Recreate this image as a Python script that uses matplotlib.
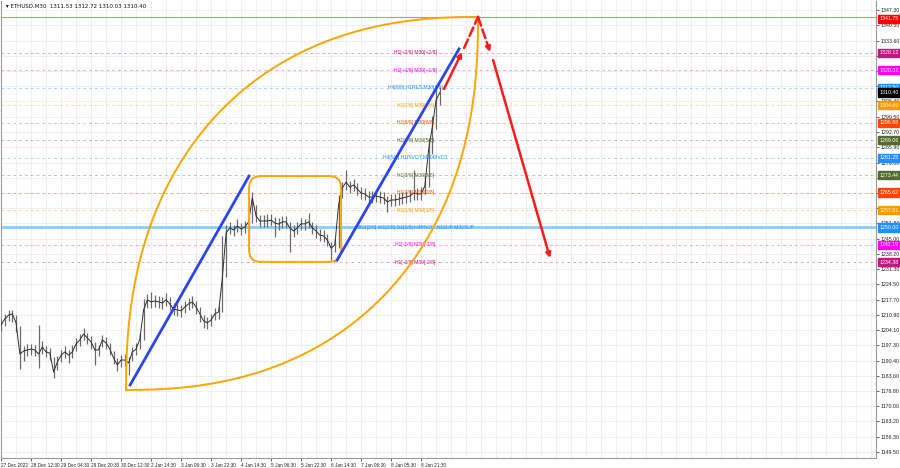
import numpy as np
import matplotlib.pyplot as plt
import matplotlib.transforms as mtransforms
from matplotlib.patches import FancyBboxPatch, FancyArrowPatch

plt.rcParams['font.family'] = ['Liberation Sans', 'DejaVu Sans']

# ETHUSD M30, one reading every 4 bars (close / high / low)
bar_step = 4
closes = [1206.4, 1209.1, 1210.8, 1211.3, 1207.3, 1193.4, 1194.7, 1195.2, 1195.6, 1195.2,
          1193.4, 1196.5, 1194.3, 1193.8, 1185.3, 1189.8, 1192.9, 1194.3, 1192.9, 1194.3,
          1197.9, 1199.7, 1202.3, 1200.6, 1198.8, 1195.2, 1195.2, 1199.7, 1198.3, 1195.6,
          1191.6, 1188.5, 1190.7, 1190.7, 1189.4, 1194.3, 1195.6, 1200.1, 1213.1, 1217.6,
          1216.7, 1217.1, 1216.7, 1216.2, 1217.6, 1215.8, 1213.5, 1213.1, 1212.7, 1214.4,
          1215.8, 1216.7, 1214.4, 1211.3, 1208.2, 1207.3, 1208.6, 1211.3, 1212.2, 1227.4,
          1247.5, 1249.8, 1248.9, 1250.7, 1249.3, 1250.2, 1252.5, 1263.2, 1255.1, 1252.9,
          1252.9, 1252.9, 1253.3, 1252.0, 1251.5, 1252.5, 1252.5, 1249.8, 1248.4, 1249.8,
          1251.6, 1251.6, 1252.5, 1249.8, 1248.4, 1246.6, 1246.2, 1244.4, 1240.8, 1242.2,
          1260.1, 1267.7, 1270.3, 1268.1, 1269.0, 1267.2, 1265.4, 1265.0, 1263.6, 1263.6,
          1264.1, 1263.6, 1263.2, 1261.4, 1262.3, 1262.3, 1262.7, 1263.2, 1263.6, 1264.1,
          1265.4, 1265.0, 1265.0, 1268.6, 1284.7, 1295.0, 1307.0, 1310.4]
highs = [1209.0, 1211.5, 1213.2, 1213.0, 1211.0, 1206.0, 1197.0, 1197.8, 1198.0, 1197.5,
         1206.4, 1199.0, 1196.8, 1196.1, 1192.0, 1192.4, 1195.3, 1196.9, 1195.0, 1197.2,
         1200.6, 1202.4, 1205.2, 1203.0, 1201.3, 1198.9, 1197.6, 1202.1, 1200.8, 1198.4,
         1194.6, 1191.4, 1193.0, 1193.4, 1192.1, 1196.5, 1198.2, 1202.8, 1217.9, 1220.2,
         1221.0, 1219.6, 1219.2, 1218.9, 1220.5, 1218.7, 1216.0, 1215.6, 1215.3, 1217.1,
         1218.4, 1219.3, 1217.0, 1214.6, 1211.0, 1210.1, 1211.2, 1213.9, 1215.0, 1246.0,
         1251.0, 1252.4, 1251.3, 1253.6, 1251.9, 1253.0, 1255.3, 1265.9, 1260.0, 1255.6,
         1255.4, 1255.8, 1256.0, 1254.7, 1254.2, 1255.1, 1255.3, 1252.4, 1251.0, 1252.5,
         1254.2, 1254.0, 1256.5, 1252.6, 1251.1, 1249.2, 1248.8, 1247.0, 1243.5, 1245.0,
         1264.5, 1270.4, 1275.7, 1271.0, 1271.7, 1270.0, 1268.1, 1267.6, 1266.2, 1266.4,
         1266.7, 1266.1, 1265.8, 1264.2, 1264.9, 1265.0, 1265.3, 1265.9, 1266.3, 1266.8,
         1275.7, 1267.7, 1267.9, 1272.5, 1290.0, 1300.0, 1312.0, 1312.7]
lows = [1203.5, 1205.8, 1208.3, 1207.9, 1203.2, 1186.5, 1190.2, 1192.6, 1193.1, 1192.4,
        1187.1, 1193.6, 1191.9, 1190.8, 1182.6, 1186.2, 1189.6, 1191.8, 1189.4, 1191.6,
        1194.8, 1197.1, 1199.5, 1197.9, 1195.6, 1188.5, 1192.3, 1196.4, 1195.7, 1192.9,
        1188.8, 1185.9, 1187.7, 1188.2, 1184.0, 1190.2, 1193.0, 1195.4, 1199.6, 1214.1,
        1214.0, 1214.3, 1213.9, 1213.5, 1214.8, 1212.9, 1210.8, 1210.2, 1209.9, 1211.6,
        1213.0, 1213.8, 1211.5, 1207.9, 1205.0, 1204.6, 1205.8, 1208.6, 1209.1, 1212.0,
        1228.0, 1246.9, 1246.0, 1248.1, 1246.5, 1247.6, 1244.4, 1252.0, 1252.3, 1250.1,
        1250.3, 1250.0, 1250.6, 1245.7, 1248.8, 1249.9, 1249.6, 1239.0, 1245.6, 1247.0,
        1248.9, 1248.7, 1249.8, 1247.0, 1245.5, 1243.8, 1243.4, 1241.6, 1235.5, 1238.9,
        1241.0, 1263.0, 1266.8, 1265.2, 1266.3, 1264.4, 1262.7, 1262.4, 1261.0, 1260.8,
        1261.5, 1261.0, 1260.6, 1257.0, 1259.6, 1259.7, 1260.1, 1260.5, 1261.0, 1261.4,
        1262.5, 1262.3, 1262.1, 1264.8, 1268.0, 1283.0, 1294.0, 1305.0]

date_step = 32
date_labels = ['27 Dec 2022', '28 Dec 12:30', '29 Dec 04:30', '29 Dec 20:30', '30 Dec 12:30',
               '2 Jan 14:30', '3 Jan 06:30', '3 Jan 22:30', '4 Jan 14:30', '5 Jan 06:30',
               '5 Jan 22:30', '6 Jan 14:30', '7 Jan 06:30', '8 Jan 05:30', '8 Jan 21:30']

ytick_vals = [1347.30, 1340.50, 1333.60, 1326.80, 1320.00, 1313.10, 1306.40, 1299.50,
              1292.70, 1285.90, 1279.00, 1272.20, 1265.40, 1258.60, 1251.80, 1245.00,
              1238.20, 1231.30, 1224.50, 1217.70, 1210.90, 1204.10, 1197.30, 1190.40,
              1183.60, 1176.80, 1170.00, 1163.20, 1156.30, 1149.50]

# murrey levels
levels = [1328.12, 1320.31, 1312.50, 1304.69, 1296.88, 1289.06, 1281.25,
          1273.44, 1265.62, 1257.81, 1250.00, 1242.19, 1234.38]
level_colors = ['#c71585', '#ff00ff', '#1e90ff', '#ff9900', '#ff4500', '#556b2f', '#1e90ff',
                '#556b2f', '#ff4500', '#ff9900', '#1e90ff', '#ff00ff', '#c71585']
level_names = ['H1[+2/8] M30[+2/8]', 'H1[+1/8] M30[+1/8]', 'H4[8/8] H1RES M30[8/8]',
               'H1[7/8] M30[7/8]', 'H1[6/8] M30[6/8]', 'H1[5/8] M30[5/8]',
               'H4[5/8] H1PIVOT M30PIVOT', 'H1[3/8] M30[3/8]', 'H1[2/8] M30[2/8]',
               'H1[1/8] M30[1/8]', 'MN1[2/8] W1[2/8] D1[2/8] H4PIVOT H1SUP M30SUP',
               'H1[-1/8] M30[-1/8]', 'H1[-2/8] M30[-2/8]']

target_price = 1344.2
target_text = '1341.75'
last_price = 1310.40
title = '\u25be ETHUSD,M30  1311.53 1312.72 1310.03 1310.40'

# drawing anchors (bar index, price)
arc_start = (133.3, 1177.3)
arc_end = (508.8, target_price)
blue1 = [(137.6, 1179.5), (264.5, 1273.0)]
blue2 = [(358.4, 1235.4), (488.5, 1329.9)]
box_lo = (264.5, 1234.6)
box_hi = (362.7, 1273.0)


def main():
    fig = plt.figure(figsize=(9, 4.68), dpi=100)
    ax = fig.add_axes([0.0012, 0.0214, 0.9722, 0.9765])
    ax.set_xlim(0, 933.3)
    ax.set_ylim(1146.86, 1351.33)

    bars = np.arange(len(closes)) * bar_step

    # grid
    ax.set_xticks(np.arange(len(date_labels)) * date_step)
    ax.set_xticklabels(date_labels, fontsize=3.4, ha='left')
    ax.set_xticks(np.arange(0, 934, 16), minor=True)
    ax.grid(True, which='both', axis='x', color='#ececec', lw=0.6)
    ax.yaxis.tick_right()
    ax.set_yticks(ytick_vals)
    # labels hidden behind the coloured level boxes are left blank
    covered = levels + [last_price]
    ylabels = ['' if min(abs(v - lv) for lv in covered) < 1.5 else '%.2f' % v for v in ytick_vals]
    ax.set_yticklabels(ylabels, fontsize=3.8)
    ax.grid(True, axis='y', color='#ececec', lw=0.6)
    ax.tick_params(axis='both', length=2, width=0.5, pad=1.5, colors='#222222')
    ax.tick_params(axis='x', which='minor', length=0)
    for s in ax.spines.values():
        s.set_color('#9a9a9a')
        s.set_linewidth(0.8)
    ax.spines['top'].set_visible(False)
    ax.set_axisbelow(True)

    # levels
    ax.axhline(target_price, color='#f08080', lw=0.8)
    for lv, c in zip(levels, level_colors):
        if lv == 1250.00:
            ax.axhline(lv, color='#87cefa', lw=2.0)
        else:
            ax.axhline(lv, color=c, lw=0.7, alpha=0.38, ls=(0, (3, 3)))
    for lv, c, name in zip(levels, level_colors, level_names):
        ax.text(441.6, lv, name, color=c, fontsize=3.6, ha='center', va='center', zorder=4)

    # price bars
    ax.vlines(bars, lows, highs, color='#6a6a6a', lw=0.9, zorder=3)
    ax.plot(bars, closes, color='#2e2e2e', lw=0.7, zorder=3)

    # orange arcs
    n = 2.3
    t = np.linspace(0, np.pi / 2, 200)
    c = np.cos(t) ** (2 / n)
    s = np.sin(t) ** (2 / n)
    dx = arc_end[0] - arc_start[0]
    dp = arc_end[1] - arc_start[1]
    ax.plot(arc_start[0] + dx * (1 - c), arc_start[1] + dp * s, color='#ffa500', lw=1.4, zorder=4)
    ax.plot(arc_start[0] + dx * s, arc_start[1] + dp * (1 - c), color='#ffa500', lw=1.4, zorder=4)

    # consolidation box
    box = FancyBboxPatch(box_lo, box_hi[0] - box_lo[0], box_hi[1] - box_lo[1],
                         boxstyle='round,pad=0,rounding_size=12.8', mutation_aspect=0.42,
                         fc='none', ec='#ffa500', lw=1.4, zorder=4)
    ax.add_patch(box)

    # blue impulse lines
    for seg in (blue1, blue2):
        ax.plot([seg[0][0], seg[1][0]], [seg[0][1], seg[1][1]], color='#2b45f0', lw=2, zorder=5)

    # red forecast arrows
    arrows = [((472.5, 1312.0), (491.7, 1328.5), '-', '-|>'),
              ((493.9, 1330.3), (508.8, target_price), '--', '-'),
              ((508.8, target_price), (521.6, 1328.5), '--', '-|>'),
              ((524.8, 1324.9), (585.6, 1236.3), '-', '-|>')]
    for p0, p1, ls, style in arrows:
        ax.add_patch(FancyArrowPatch(p0, p1, arrowstyle=style, mutation_scale=7, color='#ff1a1a',
                                     lw=1.8, ls=ls, shrinkA=0, shrinkB=0, zorder=6))

    # price labels on the right axis
    tr = mtransforms.blended_transform_factory(ax.transAxes, ax.transData)
    boxes = [(target_price - 0.9, target_text, '#ff0000')]
    boxes += [(lv, '%.2f' % lv, c) for lv, c in zip(levels, level_colors)]
    boxes.append((last_price, '%.2f' % last_price, '#000000'))
    for y, txt, col in boxes:
        ax.text(1.004, y, txt, transform=tr, fontsize=3.8, color='white', ha='left', va='center',
                bbox=dict(boxstyle='square,pad=0.3', fc=col, ec=col), clip_on=False, zorder=7)

    ax.text(0.006, 0.993, title, transform=ax.transAxes, fontsize=4, va='top', ha='left',
            color='#111111', family=['DejaVu Sans'])

    fig.savefig('out.png', dpi=100)


if __name__ == "__main__":
    main()
